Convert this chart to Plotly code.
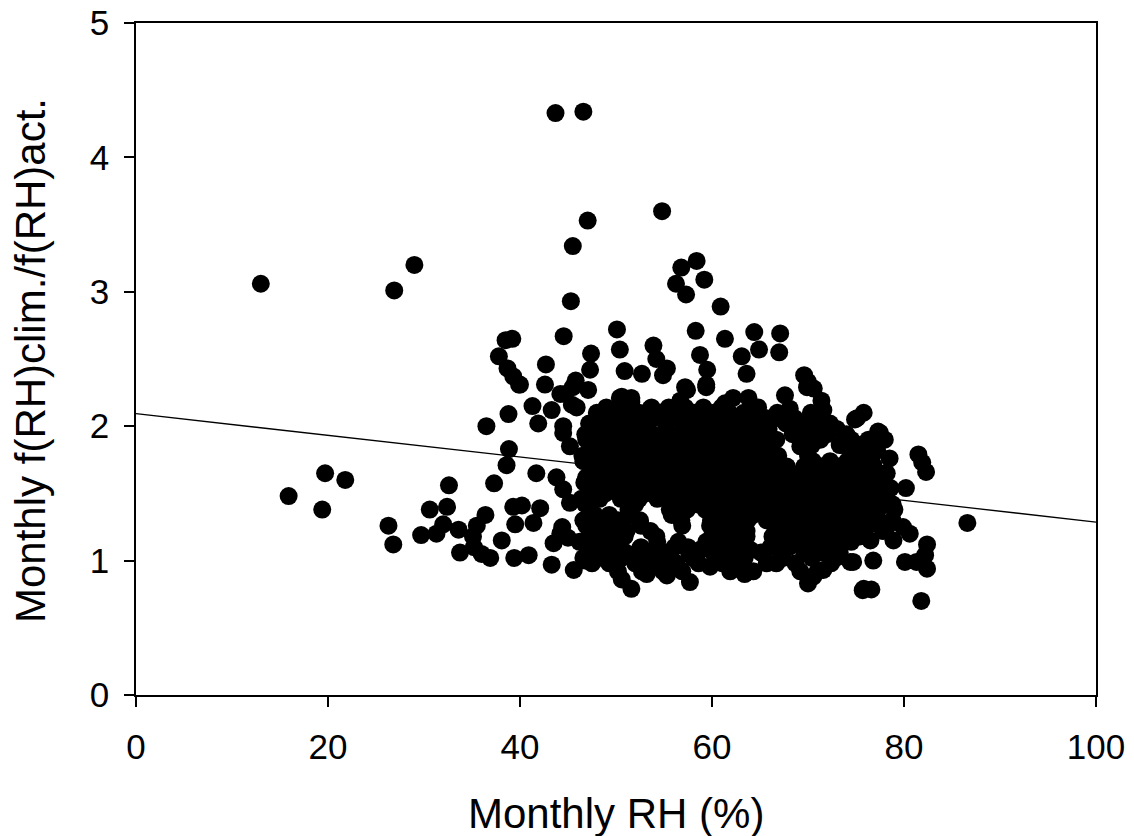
import plotly.graph_objects as go

# Monthly RH (%) and f(RH) ratio
sparse_x = [13.0, 26.9, 29.0, 15.9, 19.7, 21.8, 19.4, 26.3, 26.8,
            29.7, 30.6, 32.4, 32.6, 31.3, 32.0, 33.6, 33.75, 35.1, 35.5, 36.4, 35.2, 36.0, 36.9, 37.3,
            36.5, 38.8, 38.85, 38.6, 38.1, 39.3, 40.2, 39.5, 39.4, 40.9, 41.4, 42.1, 41.7, 41.3, 42.6,
            40.0, 41.9, 43.3, 43.5, 44.4, 45.0, 45.6, 46.8, 43.8, 44.5, 45.2, 44.5, 45.2, 44.2, 47.1, 45.9,
            43.7, 46.6, 54.8, 47.05, 45.5, 45.3, 44.55, 58.4, 56.8, 59.2, 56.25, 57.3, 60.9, 58.3, 61.35,
            50.1, 50.4, 53.9, 54.2, 55.3, 54.9, 50.9, 52.7, 58.75, 59.5, 57.2, 56.7, 59.4, 47.4, 47.3,
            45.8, 44.7, 45.4, 42.7, 39.2, 38.5, 37.8, 38.7, 39.3, 39.9, 43.3, 44.5, 61.35, 63.1, 53.6,
            50.4, 51.6, 49.0,
            64.4, 67.1, 64.9, 67.0, 63.6, 69.6, 70.0, 70.6]
sparse_y = [3.06, 3.01, 3.20, 1.48, 1.65, 1.60, 1.38, 1.26, 1.12,
            1.19, 1.38, 1.40, 1.56, 1.20, 1.27, 1.23, 1.06, 1.18, 1.26, 1.34, 1.10, 1.05, 1.02, 1.575,
            2.00, 2.09, 1.83, 1.71, 1.15, 1.40, 1.41, 1.27, 1.02, 1.04, 1.28, 1.39, 1.65, 2.15, 2.31,
            2.31, 2.02, 0.97, 1.13, 1.25, 1.17, 0.93, 1.00, 1.62, 1.53, 1.43, 1.95, 1.85, 2.24, 2.27, 2.14,
            4.33, 4.34, 3.60, 3.53, 3.34, 2.93, 2.67, 3.23, 3.18, 3.09, 3.06, 2.98, 2.89, 2.71, 2.65,
            2.72, 2.57, 2.60, 2.50, 2.43, 2.38, 2.41, 2.39, 2.53, 2.42, 2.29, 2.19, 2.31, 2.54, 2.42,
            2.34, 2.24, 2.16, 2.46, 2.65, 2.64, 2.52, 2.43, 2.37, 2.31, 2.12, 2.00, 2.17, 2.52, 2.13,
            2.21, 2.18, 2.13,
            2.70, 2.69, 2.57, 2.55, 2.39, 2.38, 2.33, 2.28]

right_x = [75.8, 75.1, 77.3, 78.0, 76.1, 78.5, 76.8, 78.2, 81.5, 82.3, 81.9, 80.2, 74.4, 74.4,
           75.4, 77.0, 77.8, 76.5, 79.9, 80.6, 78.9, 82.4, 76.5, 74.7, 76.8, 80.1, 81.3, 82.4, 82.2,
           86.6, 75.7, 76.6, 81.8]
right_y = [2.10, 2.06, 1.96, 1.90, 1.88, 1.76, 1.71, 1.65, 1.79, 1.66, 1.73, 1.54, 1.67, 1.60,
           1.48, 1.48, 1.41, 1.30, 1.25, 1.20, 1.15, 1.12, 1.15, 0.99, 1.00, 0.99, 0.99, 0.94, 1.04,
           1.28, 0.78, 0.785, 0.70]

edge_x = [57.4, 59.4, 67.6, 69.9, 71.4, 71.6, 68.1, 65.7, 74.9, 77.5, 73.3, 71.25, 69.2, 45.5,
          50.6, 51.6, 53.7, 62.2, 63.8,
          46.6, 47.8, 50.6, 51.6, 53.2, 55.3, 57.7, 59.8, 63.4, 65.7, 66.7, 70.55, 71.6, 70.0, 75.8,
          74.4, 68.1, 64.0, 61.5, 58.75, 56.1, 54.6, 52.5, 49.7, 48.85, 44.2]
edge_y = [2.27, 2.29, 2.23, 2.29, 2.19, 2.12, 2.13, 2.06, 2.05, 1.95, 1.86, 2.00, 1.85, 2.29,
          2.22, 2.21, 2.14, 2.21, 2.21,
          1.02, 1.13, 0.86, 0.79, 0.90, 0.89, 0.84, 0.955, 0.90, 0.98, 0.98, 0.88, 0.93, 0.83, 0.79,
          0.99, 1.12, 1.08, 1.05, 1.08, 1.10, 1.03, 1.09, 1.03, 1.18, 1.20]

# dense core, read row by row
core_rows = {
    2.14: [49.0, 51.2, 55.5, 57.2, 59.1, 61.0, 64.8],
    2.10: [48.0, 49.8, 52.4, 54.6, 56.3, 58.1, 60.2, 61.8, 63.3, 66.8, 70.3],
    2.06: [48.1, 50.0, 51.9, 53.9, 55.8, 57.9, 59.8, 61.6, 63.5, 67.0, 68.6, 70.8],
    2.02: [47.2, 49.1, 50.9, 53.0, 55.2, 57.0, 58.9, 60.7, 62.6, 64.4, 67.7, 69.4, 72.3],
    1.98: [47.6, 49.5, 51.4, 53.3, 55.2, 57.1, 58.8, 60.6, 62.3, 64.1, 65.9, 69.5, 71.2, 73.0],
    1.94: [46.8, 48.4, 50.2, 52.1, 53.8, 55.7, 57.5, 59.4, 61.3, 63.0, 64.9, 68.4, 70.2, 72.0, 74.0],
    1.90: [46.9, 48.6, 50.4, 52.3, 54.1, 56.0, 57.8, 59.6, 61.4, 63.2, 65.0, 66.7, 69.4, 71.3, 74.5, 76.3],
    1.86: [47.6, 49.5, 51.3, 53.2, 55.0, 56.8, 58.6, 60.4, 62.2, 64.0, 65.8, 70.4, 73.6, 75.3],
    1.82: [47.5, 49.4, 51.3, 53.2, 55.0, 56.9, 58.7, 60.6, 62.4, 64.2, 66.0, 75.5, 77.2],
    1.78: [46.5, 48.3, 50.3, 52.2, 54.1, 56.0, 57.8, 59.7, 61.5, 63.3, 65.1, 66.9, 70.0, 74.6, 76.2],
    1.74: [46.6, 48.3, 50.2, 52.1, 54.0, 55.8, 57.7, 59.6, 61.5, 63.3, 65.1, 66.9, 70.5, 72.3, 74.1, 76.6],
    1.70: [47.4, 49.2, 51.1, 53.0, 54.9, 56.7, 58.6, 60.5, 62.4, 64.2, 66.0, 67.8, 69.6, 71.4, 73.2, 75.5],
    1.66: [47.6, 49.5, 51.4, 53.2, 55.1, 57.0, 58.8, 60.7, 62.6, 64.4, 66.2, 68.0, 69.8, 71.6, 73.4, 75.1, 77.2],
    1.62: [46.9, 48.6, 50.4, 52.3, 54.2, 56.1, 57.9, 59.8, 61.7, 63.5, 65.3, 67.1, 68.9, 70.7, 72.5, 74.2, 76.0],
    1.58: [46.7, 48.6, 50.5, 52.4, 54.3, 56.2, 58.0, 59.9, 61.8, 63.6, 65.4, 67.3, 69.1, 70.9, 72.6, 74.4, 76.6, 77.9],
    1.54: [47.7, 49.6, 51.5, 53.4, 55.3, 57.1, 59.0, 60.9, 62.8, 64.6, 66.4, 68.2, 70.0, 71.8, 73.6, 75.4, 78.6],
    1.50: [47.3, 48.9, 51.2, 53.1, 55.0, 56.8, 58.7, 60.6, 62.5, 64.3, 66.1, 67.9, 69.7, 71.5, 73.3, 75.0, 77.2],
    1.46: [46.4, 48.3, 50.5, 52.4, 54.3, 56.2, 58.1, 60.0, 61.8, 63.7, 65.5, 67.3, 69.1, 70.9, 72.7, 74.5, 76.3, 78.2],
    1.42: [46.8, 52.0, 56.6, 58.4, 60.3, 62.2, 64.0, 65.8, 67.6, 69.4, 71.2, 73.0, 74.8, 76.6, 78.8],
    1.38: [47.3, 51.3, 55.6, 57.4, 59.3, 61.1, 63.0, 64.8, 66.6, 68.4, 70.2, 72.0, 73.8, 75.6, 79.0],
    1.34: [47.8, 49.3, 51.6, 55.8, 60.5, 62.4, 64.3, 66.2, 68.0, 69.8, 71.6, 73.4, 75.2, 77.0],
    1.30: [46.6, 48.2, 50.2, 52.5, 56.8, 59.9, 61.8, 63.7, 65.7, 67.5, 69.3, 71.1, 72.9, 74.7, 77.4, 78.8],
    1.26: [46.9, 48.7, 50.6, 52.6, 56.9, 59.8, 61.6, 63.0, 67.1, 68.9, 70.7, 72.5, 74.4, 76.2, 78.3],
    1.22: [47.4, 49.8, 51.1, 53.6, 60.6, 62.3, 63.6, 66.6, 68.3, 70.1, 71.9, 73.7, 75.6, 77.8],
    1.18: [47.2, 49.0, 50.9, 54.2, 60.0, 61.8, 63.6, 66.3, 68.1, 69.9, 71.7, 73.5, 75.4],
    1.14: [46.2, 50.4, 54.3, 56.5, 59.4, 61.2, 63.0, 67.2, 69.0, 70.8, 72.7, 74.5],
    1.10: [47.0, 49.4, 52.6, 57.5, 59.4, 61.6, 63.5, 66.1, 68.0, 70.2, 72.0],
    1.06: [48.0, 51.0, 53.1, 55.4, 57.6, 60.1, 62.4, 65.1, 67.3, 69.6, 71.5, 73.3],
    1.02: [48.6, 50.6, 52.8, 55.2, 58.0, 60.6, 63.4, 67.4, 70.4, 72.9],
    0.98: [47.5, 49.3, 52.0, 54.1, 56.3, 58.6, 61.1, 62.8, 68.7, 72.4],
    0.92: [50.2, 52.7, 54.9, 56.9, 61.9, 64.3, 69.2, 71.0],
}
core_x = [x for yv, xs in core_rows.items() for x in xs]
core_y = [yv for yv, xs in core_rows.items() for x in xs]

rh = sparse_x + right_x + edge_x + core_x
ratio = sparse_y + right_y + edge_y + core_y

# regression line end points
line_x = [0, 100]
line_y = [2.093, 1.287]

x_ticks = [0, 20, 40, 60, 80, 100]
y_ticks = [0, 1, 2, 3, 4, 5]

FONT = "Arial, 'Liberation Sans', sans-serif"

fig = go.Figure()
fig.add_trace(go.Scatter(x=rh, y=ratio, mode="markers",
                         marker=dict(size=18, color="black", line=dict(width=0)),
                         showlegend=False, cliponaxis=False))
fig.add_trace(go.Scatter(x=line_x, y=line_y, mode="lines",
                         line=dict(color="black", width=1.3), showlegend=False))

axis_common = dict(showline=True, linecolor="black", linewidth=1.5, mirror=True,
                   ticks="outside", ticklen=10, tickwidth=1.5, tickcolor="black",
                   showgrid=False, zeroline=False, automargin=False,
                   ticklabeloverflow="allow",
                   tickfont=dict(family=FONT, size=35, color="black"))
fig.update_xaxes(range=[0, 100], tickvals=x_ticks, ticklabelstandoff=10, **axis_common)
fig.update_yaxes(range=[0, 5], tickvals=y_ticks, ticklabelstandoff=8, **axis_common)

fig.update_layout(
    template="none",
    width=1126, height=828,
    margin=dict(l=128, r=38, t=15, b=141, autoexpand=False),
    paper_bgcolor="white", plot_bgcolor="white",
    font=dict(family=FONT, color="black"),
    annotations=[
        dict(text="Monthly RH (%)", xref="paper", yref="paper", x=0.5, y=0,
             xanchor="center", yanchor="top", yshift=-93, showarrow=False,
             font=dict(family=FONT, size=42, color="black")),
        dict(text="Monthly f(RH)clim./f(RH)act.", xref="paper", yref="paper",
             x=0, y=0.5, xanchor="center", yanchor="middle", xshift=-106, yshift=-2,
             textangle=-90, showarrow=False,
             font=dict(family=FONT, size=42, color="black")),
    ],
)

fig.write_html("out.html")
